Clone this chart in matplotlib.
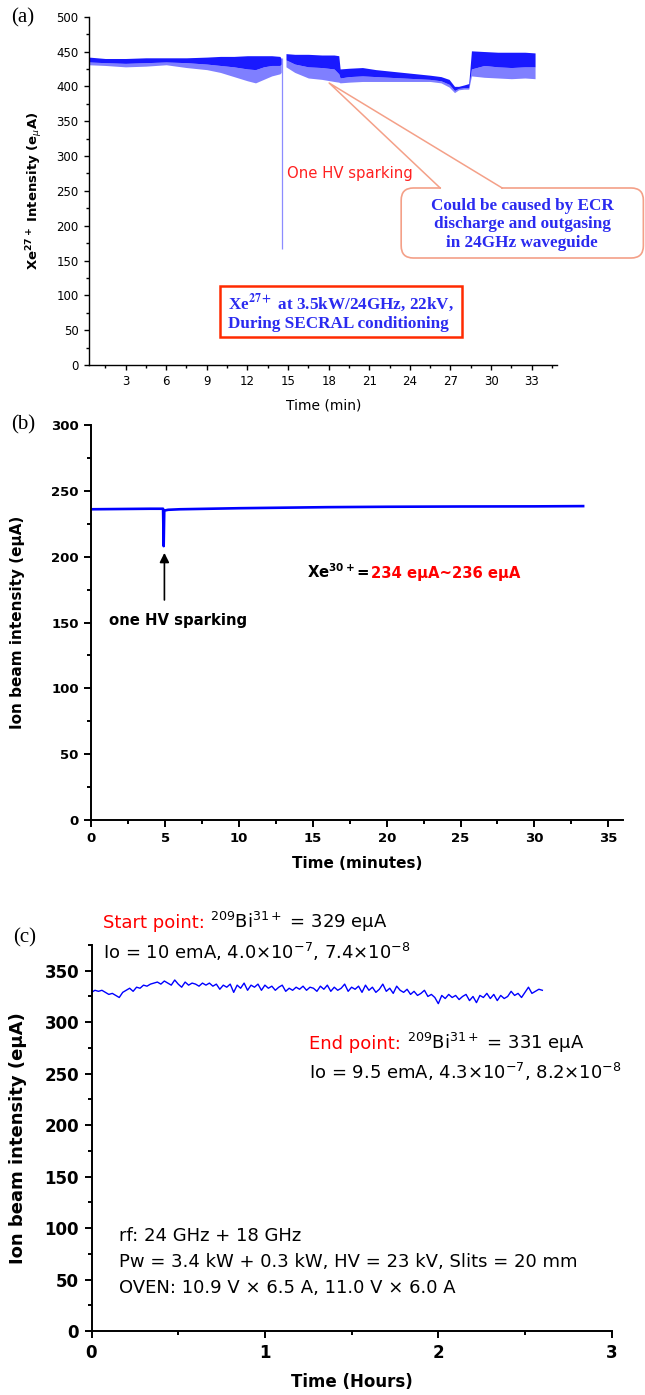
import numpy as np
import matplotlib
matplotlib.use("Agg")
import matplotlib.pyplot as plt
from matplotlib.patches import FancyBboxPatch, Rectangle
from matplotlib.ticker import MultipleLocator

plt.rcParams['font.family'] = ['DejaVu Sans']
plt.rcParams['mathtext.fontset'] = 'dejavusans'

BLUE = '#0000FF'
RED = '#FF0000'
SALMON = '#F4A088'
TEXT_BLUE = '#2B2BF0'
SERIF = 'Liberation Serif'

# ---------------- (a) Xe27+ during SECRAL conditioning (minutes, eμA) ----------------
# noisy trace described by its envelope: upper edge, dense-core lower edge, fringe lower edge
a1_time = [0.3, 1.5, 3.0, 4.5, 6.0, 7.5, 9.0, 10.0, 11.0, 12.0, 12.6, 13.2, 13.8, 14.4, 14.5]
a1_top = [442, 440, 440, 441, 441, 441, 442, 443, 443, 444, 444, 444, 444, 443, 440]
a1_core = [435, 434, 433, 434, 435, 434, 432, 430, 428, 425, 424, 428, 430, 430, 432]
a1_low = [431, 430, 428, 429, 431, 427, 424, 420, 414, 408, 405, 410, 415, 418, 420]

a2_time = [14.85, 15.5, 16.5, 17.5, 18.4, 18.75, 18.85, 19.5, 20.5, 21.5, 22.5, 23.5,
           24.5, 25.5, 26.3, 26.9, 27.3, 27.6, 28.0, 28.35, 28.55, 29.5, 30.5, 31.5,
           32.5, 33.25]
a2_top = [447, 446, 446, 445, 445, 444, 425, 426, 427, 424, 422, 420,
          418, 416, 414, 410, 400, 400, 402, 404, 451, 450, 449, 449,
          449, 448]
a2_core = [438, 432, 428, 427, 425, 418, 412, 414, 415, 414, 413, 412,
           411, 410, 408, 403, 394, 397, 398, 398, 425, 430, 428, 427,
           428, 428]
a2_low = [428, 420, 412, 410, 407, 406, 405, 406, 407, 407, 407, 407,
          407, 407, 405, 399, 391, 395, 396, 396, 415, 413, 412, 411,
          412, 411]

a_spark_time = 14.55
a_spark_low = 166
a_spark_top = 440

# ---------------- (b) Xe30+ long run (minutes, eμA) ----------------
b_time = [0.0, 2.0, 4.0, 4.86, 4.9, 4.94, 5.2, 6.0, 8.0, 10.0, 13.0, 16.0,
          20.0, 25.0, 30.0, 33.3]
b_current = [236.0, 236.2, 236.4, 236.4, 208.0, 235.0, 235.6, 236.0, 236.4, 236.8,
             237.2, 237.6, 237.9, 238.1, 238.2, 238.4]
b_spark_time = 4.95

# ---------------- (c) 209Bi31+ long run (hours, eμA), one reading every 0.02 h ----------------
c_current = [
    329, 331, 330, 331, 329, 327, 328, 326, 324, 329,
    331, 333, 330, 334, 333, 336, 335, 337, 338, 339,
    337, 340, 338, 336, 341, 337, 334, 339, 336, 338,
    337, 335, 338, 336, 338, 335, 337, 332, 336, 334,
    337, 329, 336, 333, 338, 331, 336, 334, 337, 331,
    336, 333, 335, 331, 334, 336, 330, 333, 331, 334,
    332, 335, 331, 334, 333, 330, 335, 332, 336, 330,
    334, 331, 333, 337, 330, 334, 332, 335, 329, 336,
    331, 334, 329, 332, 337, 330, 333, 328, 335, 331,
    329, 332, 327, 330, 326, 328, 331, 325, 327, 324,
    318, 326, 323, 327, 324, 326, 322, 325, 327, 321,
    325, 319, 326, 324, 328, 323, 327, 321, 326, 323,
    325, 330, 326, 328, 324, 329, 334, 328, 330, 332,
    331,
]
c_time = np.arange(len(c_current)) * 0.02

W, H = 645, 1395
fig = plt.figure(figsize=(W / 100, H / 100), dpi=100)


def axes_px(left, top, right, bottom):
    return fig.add_axes([left / W, 1 - bottom / H, (right - left) / W, (bottom - top) / H])


def style_axes(ax, lw, tick_size, weight, major_len, minor_len, pad):
    for s in ('top', 'right'):
        ax.spines[s].set_visible(False)
    for s in ('left', 'bottom'):
        ax.spines[s].set_linewidth(lw)
    ax.tick_params(which='major', direction='out', length=major_len, width=lw,
                   labelsize=tick_size, pad=pad)
    ax.tick_params(which='minor', direction='out', length=minor_len, width=lw)
    for lab in ax.get_xticklabels() + ax.get_yticklabels():
        lab.set_fontweight(weight)


def noisy_band(ax, t, top, core, low):
    # dense upper part of the trace and its sparser lower excursions
    ax.fill_between(t, core, top, color=BLUE, alpha=0.9, lw=0)
    ax.fill_between(t, low, core, color=BLUE, alpha=0.5, lw=0)


# ======================= panel (a) =======================
ax_a = axes_px(89, 16.7, 557.4, 365)
noisy_band(ax_a, a1_time, a1_top, a1_core, a1_low)
noisy_band(ax_a, a2_time, a2_top, a2_core, a2_low)
ax_a.vlines(a_spark_time, a_spark_low, a_spark_top, color='#8C8CFF', lw=0.9)

ax_a.set_xlim(0.3, 34.9)
ax_a.set_ylim(0, 500)
ax_a.xaxis.set_major_locator(MultipleLocator(3))
ax_a.xaxis.set_minor_locator(MultipleLocator(1.5))
ax_a.yaxis.set_major_locator(MultipleLocator(50))
ax_a.yaxis.set_minor_locator(MultipleLocator(25))
style_axes(ax_a, 1.0, 8.5, 'normal', 3.5, 2.0, 4)
ax_a.set_ylabel(r'Xe$^{\mathbf{27+}}$ Intensity (e$_{\mu}$A)', fontsize=9.5,
                fontweight='bold', va='center')
ax_a.yaxis.set_label_coords(-0.115, 0.5)
ax_a.set_xlabel('Time (min)', fontsize=10, va='center')
ax_a.xaxis.set_label_coords(0.5, -0.115)

ax_a.text(14.93, 269, 'One HV sparking', color='#FF2020', fontsize=10.7, va='baseline')

# speech-bubble callout
bubble = FancyBboxPatch((23.36, 153.6), 41.25 - 23.36, 254.1 - 153.6,
                        boxstyle='round,pad=0,rounding_size=0.9', mutation_aspect=19.42,
                        ec=SALMON, fc='white', lw=1.2, clip_on=False, zorder=3)
ax_a.add_patch(bubble)
ax_a.plot([26.3, 30.76], [254.1, 254.1], color='white', lw=2.6, clip_on=False, zorder=4,
          solid_capstyle='butt')
ax_a.plot([26.24, 18.04, 30.82], [254.1, 404.8, 254.1], color=SALMON, lw=1.1,
          clip_on=False, zorder=4)
ax_a.text(32.3, 202, 'Could be caused by ECR\ndischarge and outgasing\nin 24GHz waveguide',
          family=SERIF, fontweight='bold', fontsize=12.3, color=TEXT_BLUE,
          ha='center', va='center', multialignment='center', linespacing=1.2, zorder=5)

ax_a.add_patch(Rectangle((9.98, 40.2), 27.83 - 9.98, 113.4 - 40.2, fill=False,
                         ec='#FF2A00', lw=1.8, zorder=3))
ax_a.text(10.57, 76, 'Xe$^{\\mathbf{27+}}$ at 3.5kW/24GHz, 22kV,\nDuring SECRAL conditioning',
          family=SERIF, fontweight='bold', fontsize=12.3, color=TEXT_BLUE,
          ha='left', va='center', linespacing=1.2, math_fontfamily='stix', zorder=5)

# ======================= panel (b) =======================
ax_b = axes_px(91.3, 425, 623, 820)
ax_b.plot(b_time, b_current, color=BLUE, lw=1.9)
ax_b.set_xlim(0, 36)
ax_b.set_ylim(0, 300)
ax_b.xaxis.set_major_locator(MultipleLocator(5))
ax_b.xaxis.set_minor_locator(MultipleLocator(2.5))
ax_b.yaxis.set_major_locator(MultipleLocator(50))
ax_b.yaxis.set_minor_locator(MultipleLocator(25))
style_axes(ax_b, 1.4, 9.5, 'bold', 5, 3, 4)
ax_b.set_ylabel('Ion beam intensity (eμA)', fontsize=11, fontweight='bold', va='center')
ax_b.yaxis.set_label_coords(-0.139, 0.5)
ax_b.set_xlabel('Time (minutes)', fontsize=11, fontweight='bold', va='center')
ax_b.xaxis.set_label_coords(0.5, -0.109)

ax_b.annotate('', xy=(b_spark_time, 205), xytext=(b_spark_time, 165),
              arrowprops=dict(arrowstyle='-|>', color='black', lw=1.2, mutation_scale=14))
ax_b.text(1.17, 148, 'one HV sparking', fontsize=10.7, fontweight='bold', va='baseline')
xe30 = ax_b.text(14.6, 183.5, r'Xe$^{\mathbf{30+}}$= ', fontsize=10.7, fontweight='bold',
                 va='baseline')
ax_b.annotate('234 eμA~236 eμA', xy=(1, 183.5), xycoords=(xe30, 'data'), color=RED,
              fontsize=10.7, fontweight='bold', va='baseline', ha='left')

# ======================= panel (c) =======================
ax_c = axes_px(91.5, 945, 611.7, 1331)
ax_c.plot(c_time, c_current, color=BLUE, lw=1.0)
ax_c.set_xlim(0, 3)
ax_c.set_ylim(0, 375)
ax_c.xaxis.set_major_locator(MultipleLocator(1))
ax_c.xaxis.set_minor_locator(MultipleLocator(0.5))
ax_c.yaxis.set_major_locator(MultipleLocator(50))
ax_c.yaxis.set_minor_locator(MultipleLocator(25))
style_axes(ax_c, 1.4, 12, 'bold', 5, 3, 4)
ax_c.set_ylabel('Ion beam intensity (eμA)', fontsize=13, fontweight='bold', va='center')
ax_c.yaxis.set_label_coords(-0.142, 0.5)
ax_c.set_xlabel('Time (Hours)', fontsize=12, fontweight='bold', va='center')
ax_c.xaxis.set_label_coords(0.5, -0.131)

FS_C = 13
start = ax_c.text(0.065, 392, 'Start point: ', color=RED, fontsize=FS_C, va='baseline')
ax_c.annotate(r'$^{209}$Bi$^{31+}$ = 329 eμA', xy=(1, 392), xycoords=(start, 'data'),
              fontsize=FS_C, va='baseline', ha='left')
ax_c.text(0.065, 361, r'Io = 10 emA, 4.0$\times$10$^{-7}$, 7.4$\times$10$^{-8}$',
          fontsize=FS_C, va='baseline')
end = ax_c.text(1.256, 273.5, 'End point: ', color=RED, fontsize=FS_C, va='baseline')
ax_c.annotate(r'$^{209}$Bi$^{31+}$ = 331 eμA', xy=(1, 273.5), xycoords=(end, 'data'),
              fontsize=FS_C, va='baseline', ha='left')
ax_c.text(1.256, 245, r'Io = 9.5 emA, 4.3$\times$10$^{-7}$, 8.2$\times$10$^{-8}$',
          fontsize=FS_C, va='baseline')
ax_c.text(0.16, 87.4, 'rf: 24 GHz + 18 GHz', fontsize=FS_C, va='baseline')
ax_c.text(0.16, 61.8, 'Pw = 3.4 kW + 0.3 kW, HV = 23 kV, Slits = 20 mm', fontsize=FS_C,
          va='baseline')
ax_c.text(0.16, 36.6, 'OVEN: 10.9 V × 6.5 A, 11.0 V × 6.0 A', fontsize=FS_C, va='baseline')

# panel letters
for lab, xp, yp in (('(a)', 23, 18), ('(b)', 23, 425), ('(c)', 25, 938)):
    fig.text(xp / W, 1 - yp / H, lab, family=SERIF, fontsize=15, ha='center', va='center')

fig.savefig('out.png', dpi=100)
